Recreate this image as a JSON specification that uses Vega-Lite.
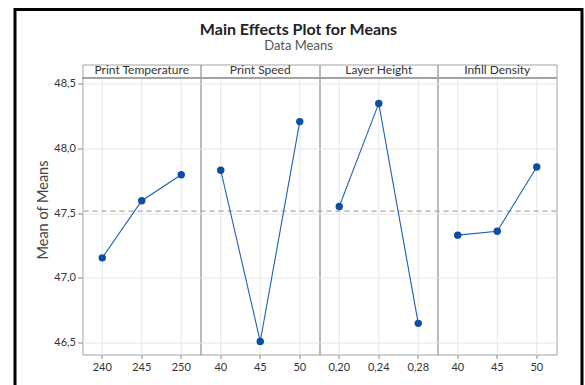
{
  "$schema": "https://vega.github.io/schema/vega-lite/v6.json",
  "padding": {"left": 13, "top": 7.5, "right": 2, "bottom": -25.5},
  "bounds": "flush",
  "center": true,
  "align": {"column": "none", "row": "each"},
  "spacing": -499.5,
  "config": {
    "font": "Lato",
    "view": {"stroke": "#a3a3a3"},
    "axis": {"labelFont": "Lato", "titleFont": "Lato"}
  },
  "hconcat": [
    {
      "width": 567,
      "height": 400,
      "view": {"stroke": "black", "strokeWidth": 3, "fill": null},
      "title": {
        "text": "Main Effects Plot for Means",
        "subtitle": "Data Means",
        "fontSize": 16,
        "fontWeight": "bold",
        "color": "#222222",
        "subtitleFontSize": 13,
        "subtitleColor": "#555555",
        "subtitlePadding": 2,
        "anchor": "middle",
        "frame": "group",
        "offset": -43
      },
      "data": {"values": []},
      "mark": "point",
      "encoding": {}
    },
    {
      "width": 474,
      "height": 290,
      "view": {"stroke": "#a3a3a3", "strokeWidth": 1},
      "data": {
        "values": [
          {"factor": "Print Temperature", "key": "Print Temperature|240", "mean": 47.155},
          {"factor": "Print Temperature", "key": "Print Temperature|245", "mean": 47.595},
          {"factor": "Print Temperature", "key": "Print Temperature|250", "mean": 47.795},
          {"factor": "Print Speed", "key": "Print Speed|40", "mean": 47.83},
          {"factor": "Print Speed", "key": "Print Speed|45", "mean": 46.51},
          {"factor": "Print Speed", "key": "Print Speed|50", "mean": 48.205},
          {"factor": "Layer Height", "key": "Layer Height|0,20", "mean": 47.55},
          {"factor": "Layer Height", "key": "Layer Height|0,24", "mean": 48.345},
          {"factor": "Layer Height", "key": "Layer Height|0,28", "mean": 46.65},
          {"factor": "Infill Density", "key": "Infill Density|40", "mean": 47.33},
          {"factor": "Infill Density", "key": "Infill Density|45", "mean": 47.36},
          {"factor": "Infill Density", "key": "Infill Density|50", "mean": 47.855}
        ]
      },
      "resolve": {"axis": {"x": "independent"}},
      "layer": [
        {
          "mark": {"type": "rule", "color": "#e6e6e6", "strokeWidth": 1},
          "encoding": {
            "x": {
              "field": "key", "type": "nominal", "sort": null,
              "scale": {"type": "band", "paddingInner": 0, "paddingOuter": 0},
              "axis": {
                "orient": "top",
                "values": ["Print Temperature|250", "Print Speed|50", "Layer Height|0,28"],
                "bandPosition": 1,
                "grid": true, "gridColor": "#8c8c8c", "gridWidth": 1.2,
                "ticks": false, "labels": false, "domain": false, "title": null
              }
            },
            "y": {"datum": 48.542, "type": "quantitative", "scale": {"domain": [46.41, 48.645], "nice": false, "zero": false}},
            "y2": {"datum": 46.41}
          }
        },
        {
          "mark": {"type": "rule", "color": "#a3a3a3", "strokeWidth": 1},
          "encoding": {"y": {"datum": 48.542, "type": "quantitative"}}
        },
        {
          "mark": {"type": "rule", "color": "#a8a8a8", "strokeDash": [5, 4], "strokeWidth": 1.2},
          "encoding": {"y": {"aggregate": "mean", "field": "mean", "type": "quantitative"}}
        },
        {
          "mark": {"type": "line", "color": "#1c5fb5", "strokeWidth": 1.1},
          "encoding": {
            "x": {
              "field": "key", "type": "nominal", "sort": null,
              "scale": {"type": "band", "paddingInner": 0, "paddingOuter": 0},
              "axis": {
                "orient": "bottom",
                "bandPosition": 0.5,
                "labelExpr": "split(datum.value, '|')[1]",
                "labelAngle": 0,
                "labelFontSize": 11,
                "labelColor": "#333333",
                "labelPadding": 3,
                "tickSize": 4,
                "tickColor": "#8a8a8a",
                "domain": false,
                "grid": false,
                "title": null
              }
            },
            "y": {
              "field": "mean", "type": "quantitative",
              "axis": {
                "values": [46.5, 47, 47.5, 48, 48.5],
                "labelExpr": "replace(format(datum.value, '.1f'), '.', ',')",
                "grid": true, "gridColor": "#e6e6e6",
                "domain": false,
                "tickSize": 5, "tickColor": "#8a8a8a",
                "labelFontSize": 11, "labelColor": "#333333", "labelPadding": 2,
                "title": "Mean of Means", "titleFontSize": 14.5, "titleFontWeight": "normal",
                "titleColor": "#444444", "titlePadding": 3
              }
            },
            "detail": {"field": "factor"}
          }
        },
        {
          "mark": {"type": "point", "filled": true, "color": "#0a4fa3", "size": 55, "opacity": 1},
          "encoding": {
            "x": {
              "field": "key", "type": "nominal", "sort": null,
              "scale": {"type": "band", "paddingInner": 0, "paddingOuter": 0},
              "axis": {
                "orient": "top",
                "offset": -13,
                "bandPosition": 0.5,
                "values": ["Print Temperature|245", "Print Speed|45", "Layer Height|0,24", "Infill Density|45"],
                "labelExpr": "split(datum.value, '|')[0]",
                "labelAngle": 0,
                "labelFontSize": 12,
                "labelColor": "#333333",
                "labelPadding": 1,
                "ticks": false, "tickSize": 0,
                "domain": false, "grid": false, "title": null
              }
            },
            "y": {"field": "mean", "type": "quantitative"}
          }
        }
      ]
    }
  ]
}
